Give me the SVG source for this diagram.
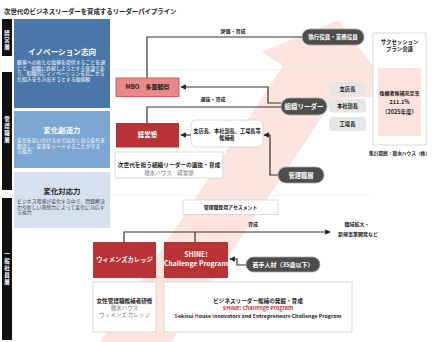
<svg xmlns="http://www.w3.org/2000/svg" width="432" height="342" viewBox="0 0 432 342">
<style>
text{font-family:"Noto Sans CJK JP","Noto Sans",sans-serif}
.b{font-weight:bold}
.w{fill:#fff}
.d{fill:#222}
.g{fill:#777}
.r{fill:#c8323a}
.bar{fill:#111}
.pill{fill:#4d4d4d;stroke:#aaa;stroke-width:0.8}
.gb{fill:#e6e6e6}
.wb{fill:#fff;stroke:#d0d0d0;stroke-width:0.8}
.red{fill:#b83236}
.con{fill:none;stroke:#333;stroke-width:1.2}
.sep{stroke:#ebebeb;stroke-width:0.7}
</style>
<defs>
<marker id="ah" viewBox="0 0 10 10" refX="9" refY="5" markerWidth="4.5" markerHeight="4.5" orient="auto"><path d="M0,0 L10,5 L0,10 z" fill="#222"/></marker>
</defs>
<rect width="432" height="342" fill="#fff"/>
<polygon id="bigarrow" points="100,342 283,66 262,52 338,20 395,95 334,99 171,342" fill="#fce4df"/>
<line class="sep" x1="112" y1="70" x2="370" y2="70"/>
<line class="sep" x1="112" y1="195" x2="370" y2="195"/>
<text x="4" y="14" class="b d" font-size="6.4">次世代のビジネスリーダーを育成するリーダーパイプライン</text>

<g id="bar-keiei"><rect class="bar" x="2" y="19" width="10" height="37"/><text x="7" y="30" class="b w" font-size="5.5" writing-mode="tb" letter-spacing="1.5">経営層</text></g>
<g id="bar-kanri"><rect class="bar" x="2" y="72" width="10" height="118"/><text x="7" y="116" class="b w" font-size="5.5" writing-mode="tb" letter-spacing="1.5">管理職層</text></g>
<g id="bar-ippan"><rect class="bar" x="2" y="198" width="10" height="142"/><text x="7" y="251" class="b w" font-size="5.5" writing-mode="tb" letter-spacing="1.5">一般社員層</text></g>

<g id="innovation"><rect x="14" y="19" width="96" height="89" fill="#4a77a8"/>
<text x="62" y="55" class="b w" font-size="7.6" text-anchor="middle">イノベーション志向</text>
<text class="w" font-size="4.9"><tspan x="17" y="64">顧客への新たな価値を提供することを通</tspan><tspan x="17" y="69.5">じて、組織に貢献しようとする意識であ</tspan><tspan x="17" y="75">り、組織的にイノベーションを起こせる</tspan><tspan x="17" y="80.5">仕組みを生み出そうとする価値観</tspan></text></g>
<g id="souzou"><rect x="14" y="111" width="96" height="57" fill="#7ea6d2"/>
<text x="62" y="133" class="b w" font-size="7.4" text-anchor="middle">変化創造力</text>
<text class="w" font-size="4.9"><tspan x="17" y="142">変化を追いかけるのではなく自ら変化を</tspan><tspan x="17" y="147.5">創造し、変革をリードすることができ</tspan><tspan x="17" y="153">る能力</tspan></text></g>
<g id="taiou"><rect x="14" y="172" width="96" height="56" fill="#d5e1ef"/>
<text x="62" y="194" class="b d" font-size="7.4" text-anchor="middle">変化対応力</text>
<text fill="#444" font-size="4.9"><tspan x="17" y="203">ビジネス環境が変化する中で、問題解決</tspan><tspan x="17" y="208.5">力や新しい発想力によって変化に対応す</tspan><tspan x="17" y="214">る能力</tspan></text></g>

<g id="connectors">
<path class="con" d="M302,37 H147 V78"/>
<path class="con" d="M281,103 H268 V87 H181" marker-end="url(#ah)"/>
<path class="con" d="M281,107 H147 V123"/>
<path class="con" d="M191,135 H181" marker-end="url(#ah)"/>
<path class="con" d="M278,175 H270 V135 H264" marker-end="url(#ah)"/>
<path class="con" d="M124,242 V232 H330" marker-end="url(#ah)"/>
<path class="con" d="M195,232 V242"/>
<path class="con" d="M246,265 H237 V259 H230" marker-end="url(#ah)"/>
<text x="233" y="33" class="b d" font-size="5" text-anchor="middle">評価・育成</text>
<text x="213" y="101" class="b d" font-size="5" text-anchor="middle">選抜・育成</text>
<text x="253" y="226" class="b d" font-size="5" text-anchor="middle">育成</text>
<text class="b d" font-size="5" text-anchor="middle"><tspan x="357" y="226">職域拡大・</tspan><tspan x="358" y="236">新規事業開発など</tspan></text>
</g>

<g id="shikkou"><rect class="pill" x="302" y="29" width="62" height="16" rx="8"/><text x="333" y="39.2" class="b w" font-size="5.5" text-anchor="middle">執行役員・業務役員</text></g>
<g id="soshiki"><rect class="pill" x="281" y="98" width="46" height="17" rx="8.5"/><text x="304" y="109" class="b w" font-size="6.5" text-anchor="middle">組織リーダー</text></g>
<g id="kanrishoku"><rect class="pill" x="278" y="167" width="46" height="16" rx="8"/><text x="301" y="177.5" class="b w" font-size="6.3" text-anchor="middle">管理職層</text></g>
<g id="wakate"><rect class="pill" x="246" y="257" width="74" height="15" rx="7.5"/><text x="283" y="266.8" class="b w" font-size="6" text-anchor="middle">若手人材（35歳以下）</text></g>

<g id="shiten"><rect class="gb" x="329" y="82" width="37" height="13.5" rx="3.5"/><text x="347.5" y="90.8" class="b d" font-size="5.3" text-anchor="middle">支店長</text></g>
<g id="honsha"><rect class="gb" x="329" y="99" width="37" height="13.5" rx="3.5"/><text x="347.5" y="107.8" class="b d" font-size="5.3" text-anchor="middle">本社部長</text></g>
<g id="koujou"><rect class="gb" x="329" y="117" width="37" height="14" rx="3.5"/><text x="347.5" y="126" class="b d" font-size="5.3" text-anchor="middle">工場長</text></g>

<g id="mbo"><rect x="116" y="78" width="63" height="18.5" fill="#e98a8a" stroke="#cc4444" stroke-width="0.8"/><text x="147.5" y="89.3" class="b d" font-size="6" text-anchor="middle">MBO　多面観察</text></g>
<g id="keieijuku"><rect class="red" x="116" y="123" width="63" height="24.5"/><text x="147.5" y="137.3" class="b w" font-size="6.5" text-anchor="middle">経営塾</text></g>
<g id="kouhosha"><rect class="wb" x="191" y="120" width="72" height="27" rx="5"/><text class="b d" font-size="5.2" text-anchor="middle"><tspan x="227" y="132.5">支店長、本社部長、工場長等</tspan><tspan x="227" y="139.5">候補者</tspan></text></g>
<g id="jisedai"><rect class="wb" x="115" y="152" width="108" height="26"/><text x="169" y="166.5" class="b d" font-size="5.7" text-anchor="middle">次世代を担う組織リーダーの選抜・育成</text><text x="169" y="175" class="g" font-size="5.5" text-anchor="middle">積水ハウス　経営塾</text></g>
<g id="assessment"><rect class="wb" x="183" y="200" width="95" height="14.5"/><text x="230.5" y="209.2" class="b d" font-size="4.9" text-anchor="middle">管理職登用アセスメント</text></g>

<g id="womens"><rect class="red" x="93" y="242" width="63" height="36"/><text x="124.5" y="262" class="b w" font-size="6.3" text-anchor="middle">ウィメンズカレッジ</text></g>
<g id="shine"><rect class="red" x="164" y="242" width="64" height="36"/><text class="b w" font-size="6.8" text-anchor="middle"><tspan x="196" y="257">SHINE!</tspan><tspan x="196" y="266">Challenge Program</tspan></text></g>
<g id="joseikenshu"><rect class="wb" x="93" y="282" width="63" height="50"/><text x="124.5" y="302.5" class="b d" font-size="5.6" text-anchor="middle">女性管理職候補者研修</text><text class="g" font-size="5.5" text-anchor="middle"><tspan x="124.5" y="310">積水ハウス</tspan><tspan x="124.5" y="317">ウィメンズ カレッジ</tspan></text></g>
<g id="shinedesc"><rect class="wb" x="164" y="282" width="188" height="50"/>
<text x="258" y="302.5" class="b d" font-size="5.6" text-anchor="middle">ビジネスリーダー候補の発掘・育成</text>
<text x="258" y="310" class="b r" font-size="5.4" text-anchor="middle">SHINE! Challenge Program</text>
<text x="258" y="318" class="b d" font-size="5.3" text-anchor="middle"><tspan class="r">S</tspan>ekisui <tspan class="r">H</tspan>ouse <tspan class="r">I</tspan>nnovators and <tspan class="r">E</tspan>ntrepreneurs Challenge Program</text></g>

<g id="succession"><rect class="wb" x="373" y="33" width="53" height="112"/>
<text class="b d" font-size="5.4" text-anchor="middle"><tspan x="399.5" y="44">サクセッション</tspan><tspan x="399.5" y="51">プラン会議</tspan></text>
<rect x="378" y="68" width="43" height="68" fill="#fde3de"/>
<text x="399.5" y="94.5" class="b d" font-size="5" text-anchor="middle">後継者候補充足率</text>
<text x="399.5" y="104" class="b d" font-size="5.5" text-anchor="middle">211.1%</text>
<text x="399.5" y="113.5" class="b d" font-size="5.5" text-anchor="middle">（2025年度）</text></g>
<text x="430" y="155" class="b d" font-size="4.7" text-anchor="end">集計範囲：積水ハウス（株）</text>
</svg>
